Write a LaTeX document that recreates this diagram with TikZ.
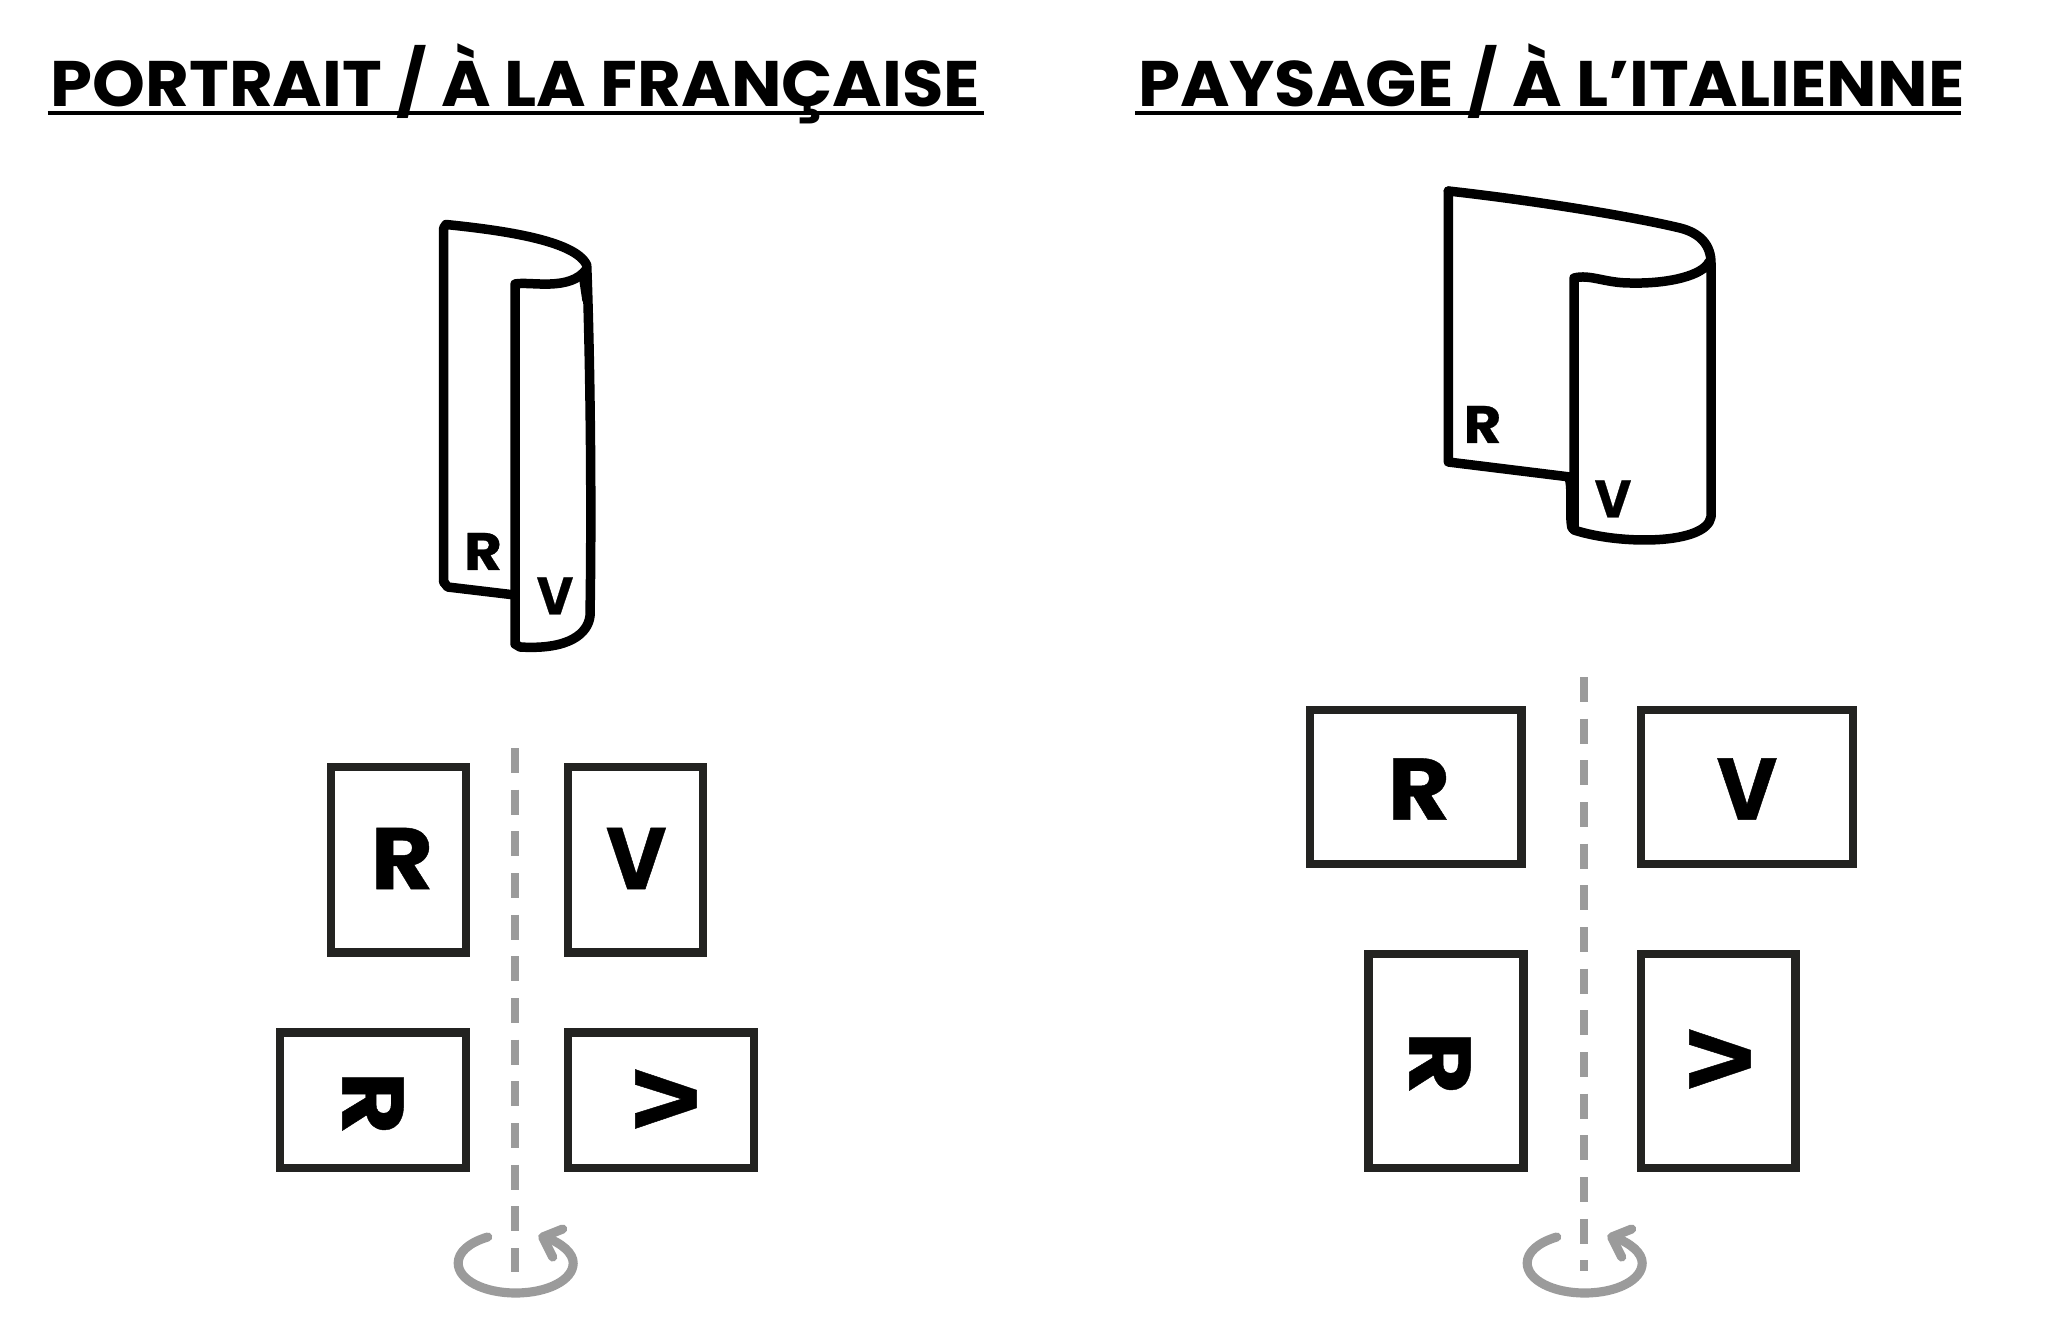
\documentclass[tikz,border=0pt]{standalone}
\usepackage{fontspec}
\setmainfont{Poppins}
\newfontfamily\titrefont[FakeStretch=1.045]{Poppins}
\newfontfamily\lettrefont[FakeStretch=1.1,FakeBold=0.5]{Poppins}
\newfontfamily\versofont[FakeStretch=0.95,FakeBold=0.5]{Poppins}
\usepackage{xcolor}
\usetikzlibrary{calc}
\definecolor{axisgrey}{RGB}{155,155,155}
\definecolor{boxdark}{RGB}{35,35,33}
\tikzset{
  fold/.style={line width=2.7pt,line join=round,line cap=round},
  page/.style={draw=boxdark,line width=2.36pt,fill=white,inner sep=0pt},
  lettre/.style={inner sep=0pt,text height=17.4pt,text depth=0pt,font=\lettrefont\bfseries\fontsize{24.8}{24.8}\selectfont},
  small/.style={inner sep=0pt,text height=10.5pt,text depth=0pt,font=\lettrefont\bfseries\fontsize{15}{15}\selectfont},
  titre/.style={anchor=base west,inner sep=0pt,font=\titrefont\bfseries\fontsize{18.3}{18.3}\selectfont},
  soul/.style={line width=1.1pt},
  axis/.style={draw=axisgrey,line width=2.36pt,dash pattern=on 7.11pt off 4.74pt},
  turn/.style={draw=axisgrey,line width=2.6pt,line cap=round,line join=round}
}
\begin{document}
\begin{tikzpicture}[x=0.01cm,y=-0.01cm]
  \useasboundingbox (0,0) rectangle (2069,1330);
  % titres
  \node[titre] (T1) at (50,106.5) {PORTRAIT / À LA FRANÇAISE};
  \node[titre] (T2) at (1137.5,106.5) {PAYSAGE / À L’ITALIENNE};
  \coordinate (s1) at (47.5,113); \coordinate (s2) at (984,113);
  \coordinate (s3) at (1135,113); \coordinate (s4) at (1961,113);
  \draw[soul] (s1)--(s2);
  \draw[soul] (s3)--(s4);
  % portrait
  \draw[fold] (443.7,582)--(443.7,228)--(446,224.5) .. controls (500,230) and (575,240) .. (586.7,265) .. controls (590,350) and (592,500) .. (590,616) .. controls (588,633) and (570,650) .. (520,647) -- (515,644) -- (515,284) .. controls (530,281) and (570,292) .. (586.7,269);
  \draw[fold] (443.7,582)--(447.7,587)--(515,595);
  \draw[fold] (584,280)--(587,300);
  \node[small] (r1) at (483,551.5) {R};
  \node[small] (v1) at (555,596) {\versofont\bfseries V};
  % paysage
  \draw[fold] (1448.3,191)--(1448.3,462)--(1570,477);
  \draw[fold] (1448.3,191) .. controls (1530,200) and (1630,216) .. (1680,228) .. controls (1700,233) and (1711,245) .. (1711,263) -- (1711,517) .. controls (1706,545) and (1620,545) .. (1574,530) -- (1574,278) .. controls (1590,274) and (1605,283) .. (1630,283) .. controls (1670,284) and (1703,275) .. (1709,262);
  \draw[fold] (1569,477) .. controls (1573,490) and (1569,515) .. (1572,528);
  \node[small] (r2) at (1482.5,424.5) {R};
  \node[small] (v2) at (1613,499) {\versofont\bfseries V};
  % pages
  \draw[axis] (515,748)--(515,1272);
  \draw[axis] (1584,677)--(1584,1271);
  \node[page,minimum width=38.4pt,minimum height=52.8pt] (a) at (398.5,859.7) {};
  \node[page,minimum width=38.4pt,minimum height=52.8pt] (b) at (635.7,859.7) {};
  \node[page,minimum width=52.8pt,minimum height=38.6pt] (c) at (373,1100.3) {};
  \node[page,minimum width=52.8pt,minimum height=38.6pt] (d) at (661,1100.3) {};
  \node[page,minimum width=60.2pt,minimum height=43.8pt] (e) at (1415.5,787) {};
  \node[page,minimum width=60.2pt,minimum height=43.8pt] (f) at (1747,787) {};
  \node[page,minimum width=44pt,minimum height=60.8pt] (g) at (1446,1061) {};
  \node[page,minimum width=44pt,minimum height=60.8pt] (h) at (1718,1061) {};
  \node[lettre] (aR) at (402,858.5) {R};
  \node[lettre] (bV) at (636.3,858.5) {\versofont\bfseries V};
  \node[lettre,rotate=-90] (cR) at (373,1103) {R};
  \node[lettre,rotate=90] (dV) at (666,1099) {\versofont\bfseries V};
  \node[lettre] (eR) at (1419,789) {R};
  \node[lettre] (fV) at (1747,789) {\versofont\bfseries V};
  \node[lettre,rotate=-90] (gR) at (1440,1063) {R};
  \node[lettre,rotate=90] (hV) at (1720,1059) {\versofont\bfseries V};
  % rotation
  \foreach \x/\n in {515.7/p,1584.7/q}{
    \coordinate (\n) at (\x,1263);
    \draw[turn] ($(\n)+(-28,-26)$) .. controls ($(\n)+(-48,-20)$) and ($(\n)+(-57.5,-10)$) .. ($(\n)+(-57.5,0)$) .. controls ($(\n)+(-57.5,17)$) and ($(\n)+(-32,30)$) .. ($(\n)+(0,30)$) .. controls ($(\n)+(32,30)$) and ($(\n)+(57.5,17)$) .. ($(\n)+(57.5,0)$) .. controls ($(\n)+(57.5,-10)$) and ($(\n)+(46,-20)$) .. ($(\n)+(29,-26)$);
    \draw[turn] ($(\n)+(47,-34)$)--($(\n)+(27,-26)$)--($(\n)+(37,-6)$);
  }
\end{tikzpicture}
\end{document}
